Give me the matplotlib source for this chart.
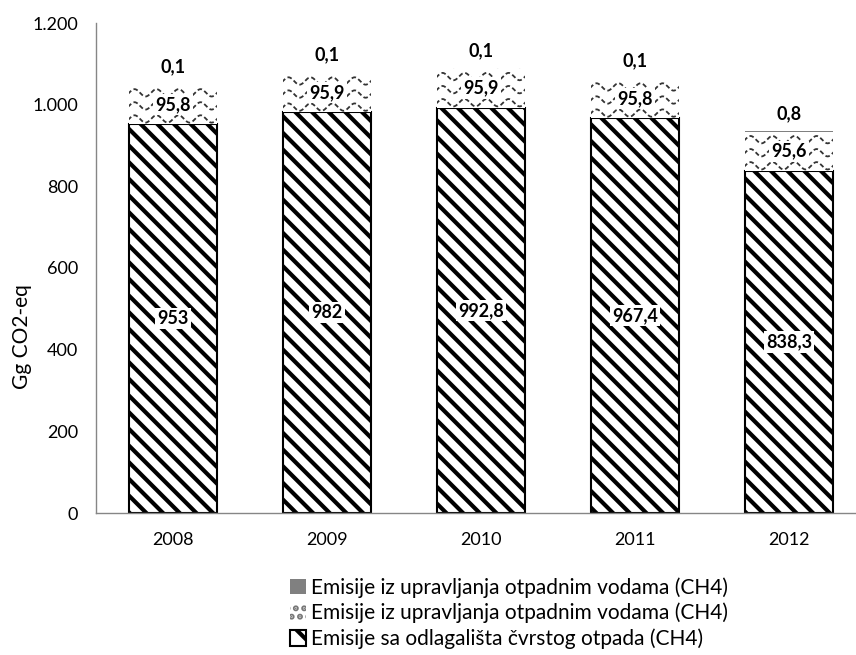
import numpy as np
import matplotlib
matplotlib.use("Agg")
import matplotlib.pyplot as plt
from matplotlib.patches import Patch, Rectangle

plt.rcParams['font.family'] = ['Lato', 'DejaVu Sans']
plt.rcParams['hatch.linewidth'] = 3.0

years = ['2008', '2009', '2010', '2011', '2012']
solid_waste = [953, 982, 992.8, 967.4, 838.3]
waste_water = [95.8, 95.9, 95.9, 95.8, 95.6]
waste_water_other = [0.1, 0.1, 0.1, 0.1, 0.8]

label_solid = 'Emisije sa odlagališta čvrstog otpada (CH4)'
label_water = 'Emisije iz upravljanja otpadnim vodama (CH4)'


def fmt(v):
    s = ('%.1f' % v).replace('.', ',')
    return s[:-2] if s.endswith(',0') else s


fig = plt.figure(figsize=(8.56, 6.55), dpi=100)
ax = fig.add_axes([96 / 856, 142 / 655, 770 / 856, 490 / 655])

x = np.arange(len(years))
w = 0.571
bottom2 = np.array(solid_waste)
bottom3 = bottom2 + np.array(waste_water)

b1 = ax.bar(x, solid_waste, w, facecolor='white', edgecolor='black',
            hatch='\\\\', linewidth=1.5, label=label_solid)
b2 = ax.bar(x, waste_water, w, bottom=bottom2, facecolor='white',
            edgecolor='none', linewidth=0)
b3 = ax.bar(x, waste_water_other, w, bottom=bottom3, color='#808080',
            linewidth=0)

# wave pattern for the middle segment
for rect in b2:
    x0, y0 = rect.get_x(), rect.get_y()
    rw, rh = rect.get_width(), rect.get_height()
    clip = Rectangle((x0, y0), rw, rh, transform=ax.transData)
    xs = np.linspace(x0 - 0.2, x0 + rw + 0.2, 400)
    for yy in np.arange(y0 - 20, y0 + rh + 40, 32):
        ln, = ax.plot(xs, yy + 9 * np.sin(2 * np.pi * (xs - x0) / 0.143),
                      color='#333333', lw=1.3, ls=(0, (2.5, 1.5)))
        ln.set_clip_path(clip)

box = dict(boxstyle='square,pad=0.12', fc='white', ec='none')
for i in range(len(years)):
    ax.text(x[i], solid_waste[i] / 2, fmt(solid_waste[i]), ha='center',
            va='center', fontsize=13, fontweight='bold', bbox=box)
    ax.text(x[i], bottom2[i] + waste_water[i] / 2, fmt(waste_water[i]),
            ha='center', va='center', fontsize=13, fontweight='bold', bbox=box)
    ax.annotate(fmt(waste_water_other[i]),
                (x[i], bottom3[i] + waste_water_other[i]),
                xytext=(0, 13), textcoords='offset points', ha='center',
                va='center', fontsize=13, fontweight='bold')

ax.set_xlim(-0.5, len(years) - 0.5)
ax.set_ylim(0, 1200)
ax.set_yticks(range(0, 1201, 200))
ax.set_yticklabels(['{:,}'.format(v).replace(',', '.') for v in range(0, 1201, 200)])
ax.set_xticks(x)
ax.set_xticklabels(years)
ax.tick_params(axis='both', length=0, labelsize=13, colors='black')
ax.tick_params(axis='y', pad=13)
ax.tick_params(axis='x', pad=14)
for s in ['top', 'right']:
    ax.spines[s].set_visible(False)
for s in ['left', 'bottom']:
    ax.spines[s].set_color('#868686')
    ax.spines[s].set_linewidth(1)

fig.text(22 / 856, 1 - 337 / 655, 'Gg CO2-eq', rotation=90, ha='center',
         va='center', fontsize=15)

handles = [Patch(facecolor='#808080', edgecolor='none'),
           Patch(facecolor='white', edgecolor='#777777', hatch='..', linewidth=0),
           Patch(facecolor='white', edgecolor='black', hatch='\\', linewidth=1.5)]
fig.legend(handles, [label_water, label_water, label_solid],
           loc='upper left', bbox_to_anchor=(290 / 856, 1 - 577 / 655),
           frameon=False, fontsize=15, handlelength=0.75, handleheight=0.75,
           handletextpad=0.25, labelspacing=0.25, borderpad=0, borderaxespad=0)

fig.savefig('out.png', dpi=100)
